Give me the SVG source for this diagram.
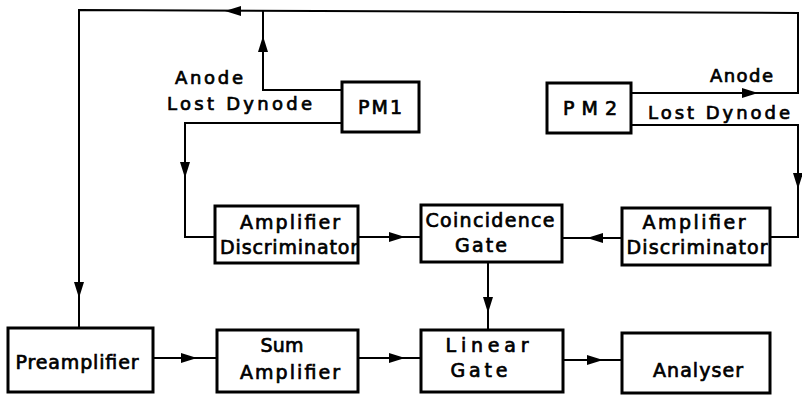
<svg xmlns="http://www.w3.org/2000/svg" width="802" height="395" viewBox="0 0 802 395">
<style>
.box{fill:#fff;stroke:#000;stroke-width:3}
.ln{fill:none;stroke:#000;stroke-width:2}
text{font-family:"DejaVu Sans","Liberation Sans",sans-serif;font-size:19px;font-weight:normal;fill:#000;stroke:#000;stroke-width:0.7;text-anchor:middle}
.lbl{text-anchor:start;font-size:18px}
</style>
<defs>
<path id="ah" d="M0,0 L-16,-5 L-16,5 Z" fill="#000"/>
</defs>
<rect width="802" height="395" fill="#fff"/>
<g id="connectors">
<path class="ln" d="M79,328 L79,10 L798,13 L798,93 L631,93"/>
<path class="ln" d="M342,90 H263 V11"/>
<path class="ln" d="M342,123 H185 V237 H215"/>
<path class="ln" d="M631,125 H798 V237 H770"/>
<path class="ln" d="M358,237 H421"/>
<path class="ln" d="M622,238 H562"/>
<path class="ln" d="M488,262 V330"/>
<path class="ln" d="M153,358 H217"/>
<path class="ln" d="M358,358 H421"/>
<path class="ln" d="M563,360 H622"/>
<use href="#ah" transform="translate(225,11) rotate(180)"/>
<use href="#ah" transform="translate(263,36) rotate(-90)"/>
<use href="#ah" transform="translate(185,178) rotate(90)"/>
<use href="#ah" transform="translate(79,298) rotate(90)"/>
<use href="#ah" transform="translate(405,237)"/>
<use href="#ah" transform="translate(587,238) rotate(180)"/>
<use href="#ah" transform="translate(758,93)"/>
<use href="#ah" transform="translate(798,189) rotate(90)"/>
<use href="#ah" transform="translate(488,313) rotate(90)"/>
<use href="#ah" transform="translate(197,358)"/>
<use href="#ah" transform="translate(405,358)"/>
<use href="#ah" transform="translate(603,360)"/>
<text class="lbl" x="175" y="84" textLength="68" lengthAdjust="spacing">Anode</text>
<text class="lbl" x="167" y="110" textLength="145" lengthAdjust="spacing">Lost Dynode</text>
<text class="lbl" x="710" y="82" textLength="63" lengthAdjust="spacing">Anode</text>
<text class="lbl" x="648" y="119" textLength="142" lengthAdjust="spacing">Lost Dynode</text>
</g>
<g id="pm1">
<rect class="box" x="342" y="82" width="77" height="50"/>
<text x="380" y="114" textLength="44" lengthAdjust="spacing">PM1</text>
</g>
<g id="pm2">
<rect class="box" x="547" y="83" width="84" height="50"/>
<text x="590" y="115" textLength="54" lengthAdjust="spacing">PM2</text>
</g>
<g id="ampdisc1">
<rect class="box" x="215" y="206" width="143" height="57"/>
<text x="290" y="229" textLength="100" lengthAdjust="spacing">Amplifier</text>
<text x="289" y="254" textLength="138" lengthAdjust="spacing">Discriminator</text>
</g>
<g id="coincidence">
<rect class="box" x="421" y="205" width="141" height="57"/>
<text x="490" y="227" textLength="129" lengthAdjust="spacing">Coincidence</text>
<text x="481" y="252" textLength="52" lengthAdjust="spacing">Gate</text>
</g>
<g id="ampdisc2">
<rect class="box" x="622" y="208" width="148" height="57"/>
<text x="694" y="229" textLength="103" lengthAdjust="spacing">Amplifier</text>
<text x="697" y="254" textLength="141" lengthAdjust="spacing">Discriminator</text>
</g>
<g id="preamplifier">
<rect class="box" x="8" y="328" width="145" height="64"/>
<text x="77" y="369" textLength="123" lengthAdjust="spacing">Preamplifier</text>
</g>
<g id="sumamp">
<rect class="box" x="217" y="330" width="141" height="62"/>
<text x="282" y="352" textLength="43" lengthAdjust="spacing">Sum</text>
<text x="290" y="379" textLength="100" lengthAdjust="spacing">Amplifier</text>
</g>
<g id="lineargate">
<rect class="box" x="421" y="330" width="142" height="62"/>
<text x="487" y="352" textLength="83" lengthAdjust="spacing">Linear</text>
<text x="479" y="377" textLength="57" lengthAdjust="spacing">Gate</text>
</g>
<g id="analyser">
<rect class="box" x="622" y="333" width="148" height="60"/>
<text x="698" y="377" textLength="90" lengthAdjust="spacing">Analyser</text>
</g>
</svg>
